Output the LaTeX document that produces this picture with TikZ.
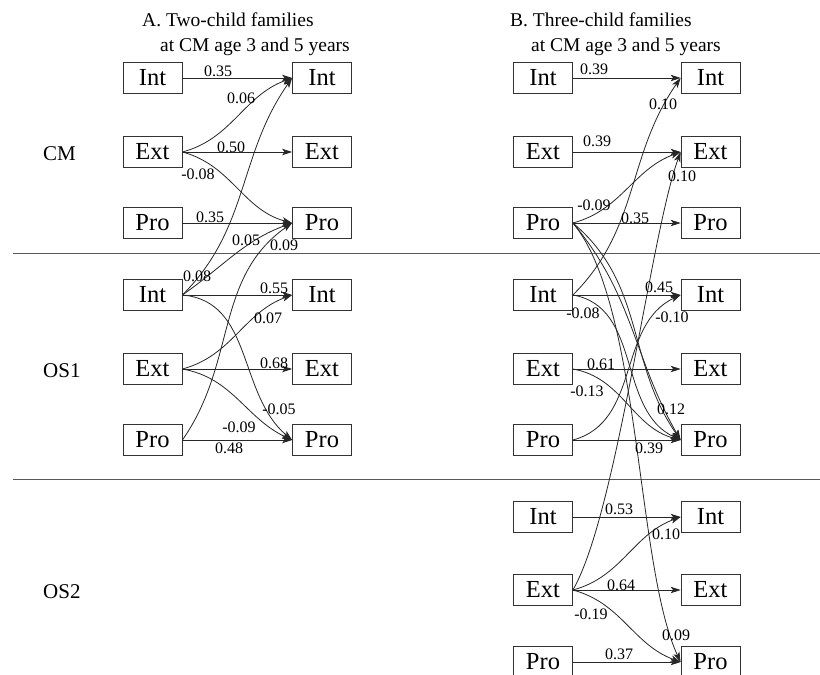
\documentclass[tikz,border=0pt]{standalone}
\usepackage{fontspec}
\setmainfont{Liberation Serif}
\usetikzlibrary{arrows.meta}
\begin{document}
\begin{tikzpicture}[x=1pt, y=1pt,
  box/.style={draw=black!80, line width=0.8pt, minimum width=59pt, minimum height=31pt, inner sep=0pt, font=\fontsize{24.5}{26}\selectfont},
  lbl/.style={inner sep=0pt, font=\fontsize{16}{18}\selectfont},
  grp/.style={anchor=west, inner sep=0pt, font=\fontsize{21}{24}\selectfont},
  ttl/.style={anchor=base west, inner sep=0pt, font=\fontsize{19.5}{22}\selectfont},
  link/.style={draw=black!85, line width=0.8pt, -{Stealth[length=10pt,width=6.5pt,inset=2.5pt]}},
  sep/.style={draw=black!65, line width=0.8pt}]
\useasboundingbox (0,0) rectangle (820,-675);
\node [ttl] (tA1) at (142,-26.5) {A. Two-child families};
\node [ttl] (tA2) at (160,-51) {at CM age 3 and 5 years};
\node [ttl] (tB1) at (510,-26.5) {B. Three-child families};
\node [ttl] (tB2) at (531,-51) {at CM age 3 and 5 years};
\node [grp] (gCM) at (43,-154) {CM};
\node [grp] (gOS1) at (43,-371) {OS1};
\node [grp] (gOS2) at (43,-592) {OS2};
\coordinate (s1a) at (13,-253);
\coordinate (s1b) at (820,-253);
\coordinate (s2a) at (13,-479);
\coordinate (s2b) at (820,-479);
\draw [sep] (s1a) -- (s1b);
\draw [sep] (s2a) -- (s2b);
\node [box] (A3cmInt) at (152.5,-78) {Int};
\node [box] (A3cmExt) at (152.5,-152) {Ext};
\node [box] (A3cmPro) at (152.5,-223) {Pro};
\node [box] (A5cmInt) at (322,-78) {Int};
\node [box] (A5cmExt) at (322,-152) {Ext};
\node [box] (A5cmPro) at (322,-223) {Pro};
\node [box] (A3os1Int) at (152.5,-295) {Int};
\node [box] (A3os1Ext) at (152.5,-369) {Ext};
\node [box] (A3os1Pro) at (152.5,-440) {Pro};
\node [box] (A5os1Int) at (322,-295) {Int};
\node [box] (A5os1Ext) at (322,-369) {Ext};
\node [box] (A5os1Pro) at (322,-440) {Pro};
\node [box] (B3cmInt) at (543,-78) {Int};
\node [box] (B3cmExt) at (543,-152) {Ext};
\node [box] (B3cmPro) at (543,-223) {Pro};
\node [box] (B5cmInt) at (710.5,-78) {Int};
\node [box] (B5cmExt) at (710.5,-152) {Ext};
\node [box] (B5cmPro) at (710.5,-223) {Pro};
\node [box] (B3os1Int) at (543,-295) {Int};
\node [box] (B3os1Ext) at (543,-369) {Ext};
\node [box] (B3os1Pro) at (543,-440) {Pro};
\node [box] (B5os1Int) at (710.5,-295) {Int};
\node [box] (B5os1Ext) at (710.5,-369) {Ext};
\node [box] (B5os1Pro) at (710.5,-440) {Pro};
\node [box] (B3os2Int) at (543,-517) {Int};
\node [box] (B3os2Ext) at (543,-590) {Ext};
\node [box] (B3os2Pro) at (543,-662) {Pro};
\node [box] (B5os2Int) at (710.5,-517) {Int};
\node [box] (B5os2Ext) at (710.5,-590) {Ext};
\node [box] (B5os2Pro) at (710.5,-662) {Pro};
\draw [link] (A3cmInt.east) -- (A5cmInt.west);
\draw [link] (A3cmExt.east) to [out=15, in=200] (A5cmInt.west);
\draw [link] (A3cmExt.east) -- (A5cmExt.west);
\draw [link] (A3cmExt.east) to [out=-15, in=165] (A5cmPro.west);
\draw [link] (A3cmPro.east) -- (A5cmPro.west);
\draw [link] (A3os1Int.east) to [out=45, in=235] (A5cmInt.west);
\draw [link] (A3os1Int.east) to [out=35, in=200] (A5cmPro.west);
\draw [link] (A3os1Pro.east) to [out=55, in=215] (A5cmPro.west);
\draw [link] (A3os1Int.east) -- (A5os1Int.west);
\draw [link] (A3os1Ext.east) to [out=15, in=200] (A5os1Int.west);
\draw [link] (A3os1Ext.east) -- (A5os1Ext.west);
\draw [link] (A3os1Ext.east) to [out=-10, in=155] (A5os1Pro.west);
\draw [link] (A3os1Int.east) to [out=-5, in=140] (A5os1Pro.west);
\draw [link] (A3os1Pro.east) -- (A5os1Pro.west);
\draw [link] (B3cmInt.east) -- (B5cmInt.west);
\draw [link] (B3os1Int.east) to [out=45, in=235] (B5cmInt.west);
\draw [link] (B3cmExt.east) -- (B5cmExt.west);
\draw [link] (B3os2Ext.east) to [out=60, in=250, looseness=0.5] (B5cmExt.west);
\draw [link] (B3cmPro.east) to [out=15, in=200] (B5cmExt.west);
\draw [link] (B3cmPro.east) -- (B5cmPro.west);
\draw [link] (B3cmPro.east) to [out=-40, in=125] (B5os1Pro.west);
\draw [link] (B3cmPro.east) to [out=-50, in=120] (B5os1Pro.west);
\draw [link] (B3cmPro.east) to [out=-50, in=115, looseness=0.6] (B5os2Pro.west);
\draw [link] (B3os1Int.east) -- (B5os1Int.west);
\draw [link] (B3os1Int.east) to [out=-10, in=155] (B5os1Pro.west);
\draw [link] (B3os1Pro.east) to [out=15, in=205] (B5os1Int.west);
\draw [link] (B3os1Ext.east) -- (B5os1Ext.west);
\draw [link] (B3os1Ext.east) to [out=-10, in=165] (B5os1Pro.west);
\draw [link] (B3os1Pro.east) -- (B5os1Pro.west);
\draw [link] (B3os2Int.east) -- (B5os2Int.west);
\draw [link] (B3os2Ext.east) to [out=15, in=200] (B5os2Int.west);
\draw [link] (B3os2Ext.east) -- (B5os2Ext.west);
\draw [link] (B3os2Ext.east) to [out=-15, in=160] (B5os2Pro.west);
\draw [link] (B3os2Pro.east) -- (B5os2Pro.west);
\node [lbl] (lA1) at (218,-71) {0.35};
\node [lbl] (lA2) at (241,-98) {0.06};
\node [lbl] (lA3) at (231,-147) {0.50};
\node [lbl] (lA4) at (198,-174) {-0.08};
\node [lbl] (lA5) at (210,-217) {0.35};
\node [lbl] (lA6) at (246,-240) {0.05};
\node [lbl] (lA7) at (284,-245) {0.09};
\node [lbl] (lA8) at (197,-276) {0.08};
\node [lbl] (lA9) at (274,-288) {0.55};
\node [lbl] (lA10) at (268,-318) {0.07};
\node [lbl] (lA11) at (274,-363) {0.68};
\node [lbl] (lA12) at (279,-409) {-0.05};
\node [lbl] (lA13) at (239,-427) {-0.09};
\node [lbl] (lA14) at (229,-448) {0.48};
\node [lbl] (lB1) at (594,-69) {0.39};
\node [lbl] (lB2) at (663,-104) {0.10};
\node [lbl] (lB3) at (597,-141) {0.39};
\node [lbl] (lB4) at (682,-176) {0.10};
\node [lbl] (lB5) at (594,-205) {-0.09};
\node [lbl] (lB6) at (635,-218) {0.35};
\node [lbl] (lB7) at (659,-287) {0.45};
\node [lbl] (lB8) at (583,-313) {-0.08};
\node [lbl] (lB9) at (672,-317) {-0.10};
\node [lbl] (lB10) at (601,-364) {0.61};
\node [lbl] (lB11) at (587,-391) {-0.13};
\node [lbl] (lB12) at (671,-409) {0.12};
\node [lbl] (lB13) at (649,-448) {0.39};
\node [lbl] (lB14) at (619,-509) {0.53};
\node [lbl] (lB15) at (666,-534) {0.10};
\node [lbl] (lB16) at (621,-585) {0.64};
\node [lbl] (lB17) at (591,-614) {-0.19};
\node [lbl] (lB18) at (676,-635) {0.09};
\node [lbl] (lB19) at (619,-654) {0.37};
\end{tikzpicture}
\end{document}
